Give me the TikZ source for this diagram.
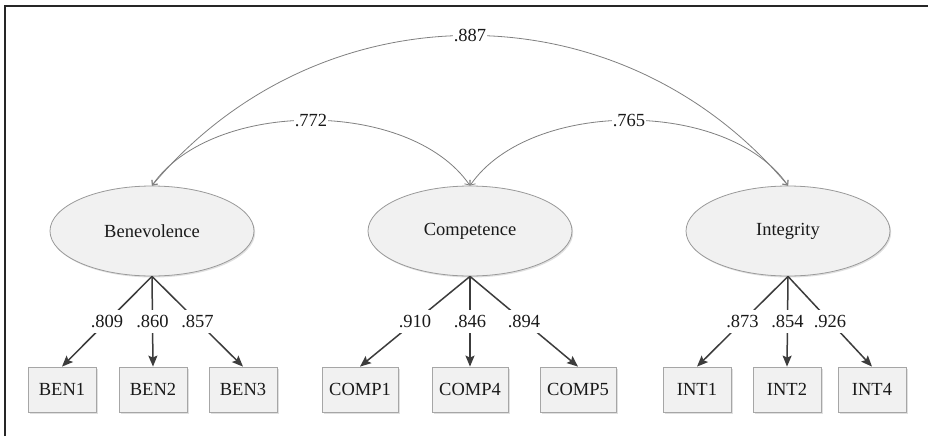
\documentclass[tikz,border=0pt]{standalone}
\usepackage{fontspec}
\setmainfont{Liberation Serif}
\usetikzlibrary{shapes.geometric,arrows.meta,shadows}
\definecolor{framec}{HTML}{262626}
\definecolor{textc}{HTML}{1A1A1A}
\definecolor{ellc}{HTML}{9A9A9A}
\definecolor{boxc}{HTML}{A6A6A6}
\definecolor{fillc}{HTML}{F1F1F1}
\definecolor{arrc}{HTML}{3C3C3C}
\definecolor{covc}{HTML}{808080}
\begin{document}
\begin{tikzpicture}[x=1pt,y=-1pt,
  every node/.style={font=\fontsize{18.5}{22}\selectfont, text=textc},
  latent/.style={ellipse, draw=ellc, line width=0.8pt, fill=fillc,
    minimum width=204pt, minimum height=90pt, inner sep=0pt,
    drop shadow={shadow xshift=1.2pt, shadow yshift=-1.5pt, fill=black, opacity=0.12}},
  indic/.style={rectangle, draw=boxc, line width=0.8pt, fill=fillc,
    minimum height=45pt, inner sep=0pt,
    drop shadow={shadow xshift=1.5pt, shadow yshift=-1.5pt, fill=black, opacity=0.12}},
  load/.style={draw=arrc, line width=1.5pt, -{Stealth[length=11pt,width=9pt,inset=2pt]}},
  cov/.style={draw=covc, line width=0.8pt,
    {Straight Barb[length=4pt,width=7pt]}-{Straight Barb[length=4pt,width=7pt]}},
  val/.style={fill=white, inner xsep=1pt, inner ysep=3pt},
  lval/.style={fill=white, inner xsep=1pt, inner ysep=5pt},
]
\useasboundingbox (0,0) rectangle (928,436);
\fill[white] (0,0) rectangle (928,436);
\draw[framec, line width=2.2pt] (5,436) -- (5,6) -- (928,6);

% latent variables
\node[latent] (ben)  at (152,231) {Benevolence};
\node[latent] (comp) at (470,231) {Competence};
\node[latent] (int)  at (788,231) {Integrity};

% indicators
\node[indic, minimum width=68pt] (ben1) at (62,389.5) {BEN1};
\node[indic, minimum width=68pt] (ben2) at (153,389.5) {BEN2};
\node[indic, minimum width=68pt] (ben3) at (243,389.5) {BEN3};
\node[indic, minimum width=76pt] (comp1) at (360,389.5) {COMP1};
\node[indic, minimum width=76pt] (comp4) at (470,389.5) {COMP4};
\node[indic, minimum width=76pt] (comp5) at (578,389.5) {COMP5};
\node[indic, minimum width=68pt] (int1) at (697,389.5) {INT1};
\node[indic, minimum width=68pt] (int2) at (787,389.5) {INT2};
\node[indic, minimum width=68pt] (int4) at (872,389.5) {INT4};

% loadings
\draw[load] (ben.south) -- node[lval] {.809} (ben1.north);
\draw[load] (ben.south) -- node[lval] {.860} (ben2.north);
\draw[load] (ben.south) -- node[lval] {.857} (ben3.north);
\draw[load] (comp.south) -- node[lval] {.910} (comp1.north);
\draw[load] (comp.south) -- node[lval] {.846} (comp4.north);
\draw[load] (comp.south) -- node[lval] {.894} (comp5.north);
\draw[load] (int.south) -- node[lval] {.873} (int1.north);
\draw[load] (int.south) -- node[lval] {.854} (int2.north);
\draw[load] (int.south) -- node[lval] {.926} (int4.north);

% covariances
\draw[cov] (ben.north) .. controls +(168,-200) and +(-168,-200) .. node[val, pos=0.5] {.887} (int.north);
\draw[cov] (ben.north) .. controls +(60,-87) and +(-60,-87) .. node[val, pos=0.5] {.772} (comp.north);
\draw[cov] (comp.north) .. controls +(60,-87) and +(-60,-87) .. node[val, pos=0.5] {.765} (int.north);
\end{tikzpicture}
\end{document}
